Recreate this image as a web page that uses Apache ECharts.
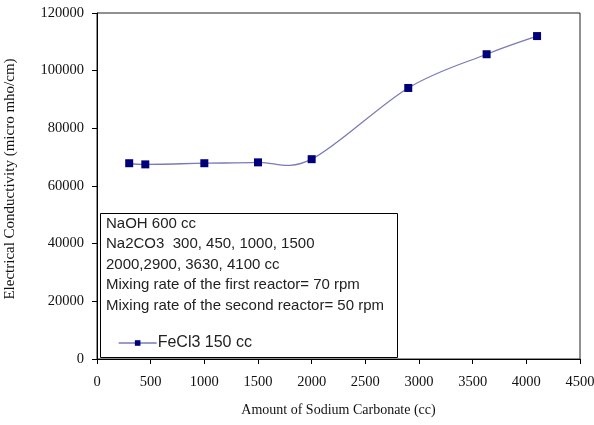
<!DOCTYPE html>
<html>
<head>
<meta charset="utf-8">
<script src="https://cdn.jsdelivr.net/npm/echarts@6/dist/echarts.min.js"></script>
<style>
html, body { margin: 0; padding: 0; background: #fff; }
#chart { width: 594px; height: 425px; }
</style>
</head>
<body>
<div id="chart"></div>
<script>
// amount of sodium carbonate (cc) and conductivity readings
var sodiumCarbonate = [300, 450, 1000, 1500, 2000, 2900, 3630, 4100];
var conductivity = [67900, 67500, 67900, 68200, 69300, 94000, 105700, 112000];
var noteLines = [
	'NaOH 600 cc',
	'Na2CO3  300, 450, 1000, 1500',
	'2000,2900, 3630, 4100 cc',
	'Mixing rate of the first reactor= 70 rpm',
	'Mixing rate of the second reactor= 50 rpm'
];
var seriesName = 'FeCl3 150 cc';

var myChart = echarts.init(document.getElementById('chart'));

var serif = '"Liberation Serif", "Times New Roman", serif';
var sans = '"Liberation Sans", Arial, sans-serif';
var lineColor = '#7a7ab8';

var points = sodiumCarbonate.map(function (x, i) {
	return [x, conductivity[i]];
});

// smooth curve like the spreadsheet one (catmull-rom through the points)
function renderCurve(params, api) {
	if (params.dataIndex !== 0) return null;
	var p = points.map(function (d) { return api.coord(d); });
	var n = p.length;
	var path = 'M' + p[0][0] + ',' + p[0][1];
	for (var i = 0; i < n - 1; i++) {
		var a = p[Math.max(i - 1, 0)], b = p[i], c = p[i + 1], d = p[Math.min(i + 2, n - 1)];
		var c1x = b[0] + (c[0] - a[0]) / 6, c1y = b[1] + (c[1] - a[1]) / 6;
		var c2x = c[0] - (d[0] - b[0]) / 6, c2y = c[1] - (d[1] - b[1]) / 6;
		path += ' C' + c1x + ',' + c1y + ' ' + c2x + ',' + c2y + ' ' + c[0] + ',' + c[1];
	}
	return {
		type: 'path',
		shape: { pathData: path },
		style: { fill: 'none', stroke: lineColor, lineWidth: 1.3 }
	};
}

var graphics = [{
	type: 'rect',
	left: 100,
	top: 213,
	shape: { width: 297, height: 144 },
	style: { fill: '#fff', stroke: '#000', lineWidth: 1 },
	z: 10
}];
noteLines.forEach(function (t, i) {
	graphics.push({
		type: 'text',
		left: 106,
		top: 216 + i * 20.5,
		style: { text: t, font: '15px ' + sans, fill: '#222' },
		z: 11
	});
});

myChart.setOption({
	animation: false,
	grid: {
		left: 97,
		right: 14,
		top: 13,
		bottom: 66,
		outerBoundsMode: 'none',
		show: true,
		borderColor: '#222',
		borderWidth: 1
	},
	xAxis: {
		type: 'value',
		min: 0,
		max: 4500,
		interval: 500,
		name: 'Amount of Sodium Carbonate (cc)',
		nameLocation: 'middle',
		nameGap: 44,
		nameTextStyle: { fontFamily: serif, fontSize: 14, color: '#111' },
		axisLine: { lineStyle: { color: '#000' } },
		axisTick: { inside: false, length: 5, lineStyle: { color: '#000' } },
		axisLabel: {
			fontFamily: serif, fontSize: 14.5, color: '#111', margin: 16,
			formatter: function (v) { return String(v); }
		},
		splitLine: { show: false }
	},
	yAxis: {
		type: 'value',
		min: 0,
		max: 120000,
		interval: 20000,
		name: 'Electrical Conductivity (micro mho/cm)',
		nameLocation: 'middle',
		nameGap: 79,
		nameTextStyle: { fontFamily: serif, fontSize: 15, color: '#111', padding: [0, 0, 0, 14] },
		axisLine: { show: true, lineStyle: { color: '#000' } },
		axisTick: { show: true, inside: false, length: 5, lineStyle: { color: '#000' } },
		axisLabel: {
			fontFamily: serif, fontSize: 14.5, color: '#111', margin: 13,
			formatter: function (v) { return String(v); }
		},
		splitLine: { show: false }
	},
	legend: {
		left: 113,
		top: 330,
		itemWidth: 38,
		itemHeight: 7,
		itemGap: 4,
		z: 12,
		textStyle: { fontFamily: sans, fontSize: 16, color: '#222', padding: [0, 0, 0, -4] },
		data: [{
			name: seriesName,
			lineStyle: { color: lineColor, width: 1.3, opacity: 1 }
		}]
	},
	graphic: graphics,
	series: [{
		name: 'curve',
		type: 'custom',
		data: points,
		renderItem: renderCurve,
		silent: true,
		z: 2
	}, {
		name: seriesName,
		type: 'line',
		data: points,
		symbol: 'rect',
		symbolSize: 8,
		showAllSymbol: true,
		lineStyle: { color: lineColor, width: 1.3, opacity: 0 },
		itemStyle: { color: '#00007a' },
		z: 3
	}]
});
</script>
</body>
</html>
